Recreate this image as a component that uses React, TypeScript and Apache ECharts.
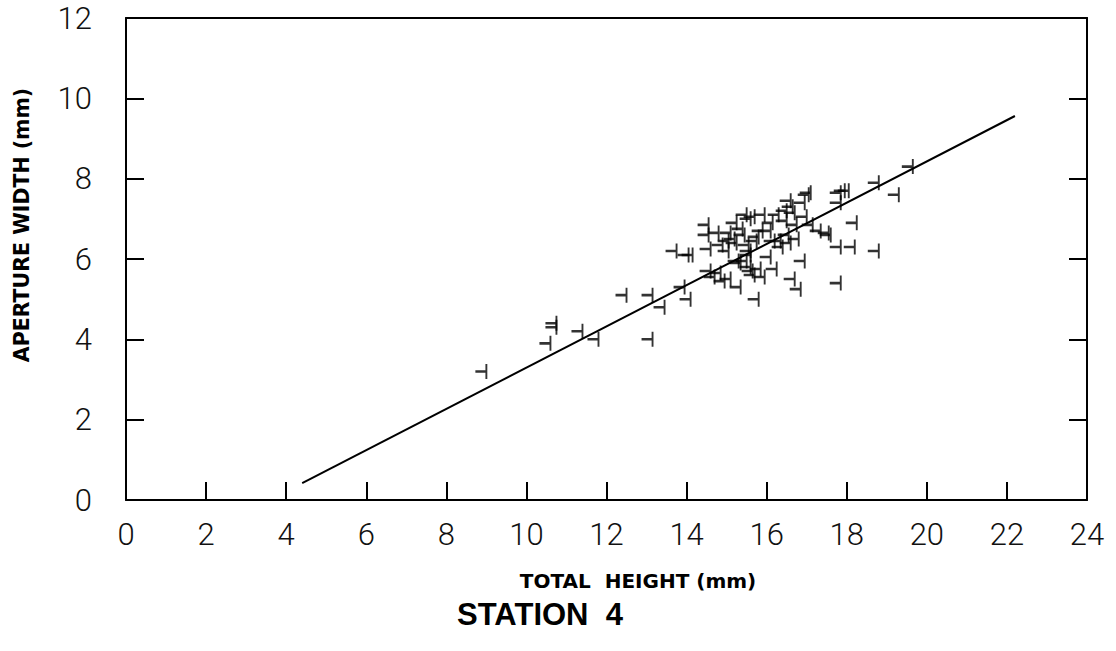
import React, { useEffect, useRef } from "react";
import * as echarts from "echarts";

const pointX = [
  9.0, 10.6, 10.75, 10.75, 11.4, 11.8, 12.5, 13.15, 13.15, 13.45,
  13.95, 14.1, 13.75, 14.05, 14.15, 14.55, 14.55, 14.6, 14.6, 14.8,
  14.7, 14.85, 15.1, 15.05, 15.05, 14.95, 15.1, 15.25, 15.2, 15.25,
  15.35, 15.3, 15.35, 15.5, 15.6, 15.55, 15.6, 15.6, 15.5, 15.6,
  15.7, 15.75, 15.8, 15.7, 15.8, 15.65, 15.95, 15.9, 15.95, 15.85,
  16.1, 16.15, 16.1, 16.2, 16.25, 16.3, 16.35, 16.4, 16.5, 16.5,
  16.55, 16.6, 16.6, 16.65, 16.7, 16.75, 16.7, 16.85, 16.8, 16.95,
  16.95, 17.0, 17.05, 17.1, 17.15, 17.35, 17.55, 17.6, 17.85, 17.95,
  18.05, 17.85, 18.25, 17.85, 18.2, 18.8, 17.85, 18.8, 19.3, 19.65,
  15.4, 15.45, 14.9,
];
const pointY = [
  3.2, 3.9, 4.4, 4.3, 4.2, 4.0, 5.1, 5.1, 4.0, 4.8,
  5.3, 5.0, 6.2, 6.1, 6.1, 6.85, 6.6, 6.25, 5.7, 6.65,
  5.55, 5.65, 6.65, 6.45, 6.2, 5.45, 5.5, 6.9, 6.5, 6.4,
  5.3, 5.95, 5.9, 7.1, 7.0, 6.35, 6.2, 6.1, 5.95, 5.8,
  7.05, 6.45, 6.55, 5.6, 5.0, 5.7, 7.1, 6.7, 5.55, 5.75,
  6.05, 6.9, 6.7, 6.45, 5.75, 7.1, 6.45, 6.3, 7.2, 6.95,
  6.6, 6.4, 7.45, 7.3, 7.15, 6.85, 5.5, 5.25, 6.5, 5.95,
  7.4, 7.05, 7.6, 7.65, 6.85, 6.7, 6.65, 6.6, 7.65, 7.7,
  7.7, 7.4, 6.9, 6.3, 6.3, 6.2, 5.4, 7.9, 7.6, 8.3,
  6.75, 6.6, 6.35,
];
const fitX = [4.4, 22.2];
const fitY = [0.42, 9.56];
const xTicks = [0, 2, 4, 6, 8, 10, 12, 14, 16, 18, 20, 22, 24];
const yTicks = [0, 2, 4, 6, 8, 10, 12];

const xTitle = "TOTAL  HEIGHT (mm)";
const yTitle = "APERTURE WIDTH (mm)";
const caption = "STATION  4";

export default function App() {
  const ref = useRef<HTMLDivElement>(null);
  useEffect(() => {
    if (!ref.current) return;
    const chart = echarts.init(ref.current, null, { renderer: "svg" });
    const tickFont = {
      fontFamily: "Roboto",
      fontWeight: 300,
      fontSize: 31,
      lineHeight: 28,
      color: "#111",
    };
    const axisLine = { show: true, onZero: false, lineStyle: { color: "#000", width: 2 } };
    const tickStyle = { show: true, inside: true, length: 18, lineStyle: { color: "#000", width: 2 } };
    chart.setOption({
      animation: false,
      backgroundColor: "#fff",
      grid: { left: 126, right: 1116 - 1087, top: 18, bottom: 651 - 500, containLabel: false },
      xAxis: [
        {
          type: "value",
          position: "bottom",
          min: xTicks[0],
          max: xTicks[xTicks.length - 1],
          interval: 2,
          axisLine,
          axisTick: tickStyle,
          axisLabel: { ...tickFont, margin: 20 },
          splitLine: { show: false },
        },
        {
          type: "value",
          position: "top",
          min: xTicks[0],
          max: xTicks[xTicks.length - 1],
          interval: 2,
          axisLine,
          axisTick: { show: false },
          axisLabel: { show: false },
          splitLine: { show: false },
        },
      ],
      yAxis: [
        {
          type: "value",
          position: "left",
          min: yTicks[0],
          max: yTicks[yTicks.length - 1],
          interval: 2,
          axisLine,
          axisTick: tickStyle,
          axisLabel: { ...tickFont, margin: 34 },
          splitLine: { show: false },
        },
        {
          type: "value",
          position: "right",
          min: yTicks[0],
          max: yTicks[yTicks.length - 1],
          interval: 2,
          axisLine,
          axisTick: tickStyle,
          axisLabel: { show: false },
          splitLine: { show: false },
        },
      ],
      series: [
        {
          type: "line",
          data: fitX.map((x, i) => [x, fitY[i]]),
          symbol: "none",
          lineStyle: { color: "#000", width: 2 },
          silent: true,
          z: 2,
        },
        {
          type: "scatter",
          data: pointX.map((x, i) => [x, pointY[i]]),
          symbol: "path://M0,7 L11,7 M11,0 L11,14",
          symbolSize: [11, 15],
          symbolOffset: [-5.5, 0],
          itemStyle: { color: "rgba(0,0,0,0)", borderColor: "#000", borderWidth: 2.2 },
          z: 3,
        },
      ],
      graphic: [
        {
          type: "text",
          x: 638,
          y: 581,
          style: {
            text: xTitle,
            font: "bold 20px 'DejaVu Sans'",
            fill: "#000",
            align: "center",
            verticalAlign: "middle",
          },
        },
        {
          type: "text",
          x: 22,
          y: 225,
          rotation: Math.PI / 2,
          style: {
            text: yTitle,
            font: "bold 20.5px 'DejaVu Sans'",
            fill: "#000",
            align: "center",
            verticalAlign: "middle",
          },
        },
        {
          type: "text",
          x: 540,
          y: 614,
          style: {
            text: caption,
            font: "bold 31px 'Liberation Sans'",
            fill: "#000",
            align: "center",
            verticalAlign: "middle",
          },
        },
      ],
    });
    return () => chart.dispose();
  }, []);
  return <div ref={ref} style={{ width: 1116, height: 651, position: "absolute", left: 0, top: 0 }} />;
}
